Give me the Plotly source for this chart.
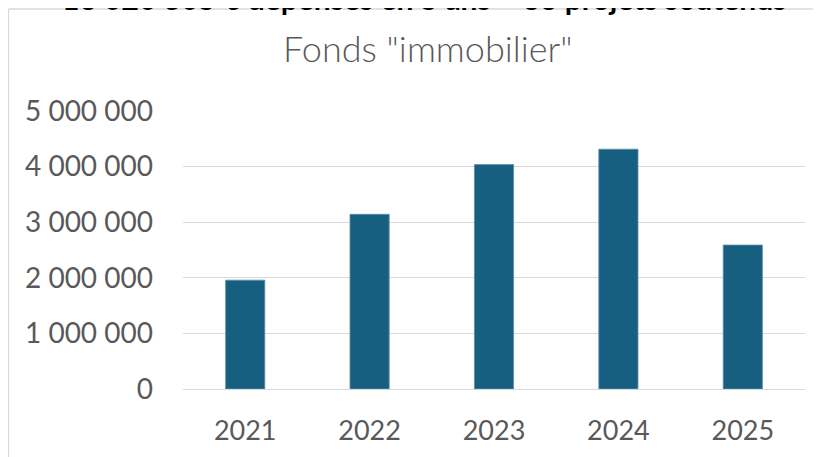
import plotly.graph_objects as go

years = ["2021", "2022", "2023", "2024", "2025"]
montants = [1958000, 3142000, 4036000, 4313000, 2589000]
y_ticks = [0, 1000000, 2000000, 3000000, 4000000, 5000000]
y_tick_labels = ["0", "1 000 000", "2 000 000", "3 000 000", "4 000 000", "5 000 000"]
titre_haut = "16 020 305 € dépensés en 5 ans – 66 projets soutenus"
titre = 'Fonds "immobilier"'

# the page body adds an 8 px margin: the figure starts at (8, 8) in the window
O = 8
W, H = 821 - O, 457 - O
# plot area in window pixels: x 183..805, y 111..389
L, R = 183 - O, W - (805 - O)
T, B = 111 - O, H - (389 - O)
ph = H - T - B
pw = W - L - R

def py(p):  # window pixel y -> paper y
    return (H - B - (p - O)) / ph

def px(p):  # window pixel x -> paper x
    return ((p - O) - L) / pw

fig = go.Figure()
fig.add_trace(go.Bar(
    x=years, y=montants,
    marker=dict(color="#175F81", line=dict(color="#5B8FA8", width=0.8)),
    width=0.315,
    hoverinfo="x+y",
))

FONT = "Lato"
fig.update_layout(
    width=W, height=H,
    margin=dict(l=L, r=R, t=T, b=B),
    paper_bgcolor="white", plot_bgcolor="white",
    showlegend=False,
    font=dict(family=FONT, color="#595959"),
    xaxis=dict(
        type="category", showgrid=False, zeroline=False, showline=False,
        ticks="", tickfont=dict(size=27, color="#595959"),
        ticklabelstandoff=23,
    ),
    yaxis=dict(
        range=[0, 5000000], tickvals=y_ticks, ticktext=y_tick_labels,
        showgrid=True, gridcolor="#D9D9D9", gridwidth=1.3,
        zeroline=True, zerolinecolor="#D9D9D9", zerolinewidth=1.3,
        showline=False, ticks="", tickfont=dict(size=28, color="#595959"),
        ticklabelstandoff=29,
    ),
    shapes=[
        dict(type="line", xref="paper", yref="paper",
             x0=px(8.5), x1=px(830), y0=py(9), y1=py(9),
             line=dict(color="#D9D9D9", width=1.3)),
        dict(type="line", xref="paper", yref="paper",
             x0=px(8.5), x1=px(8.5), y0=py(9), y1=py(470),
             line=dict(color="#D9D9D9", width=1.3)),
    ],
    annotations=[
        dict(text=titre_haut, xref="paper", yref="paper",
             x=px(424), y=py(18.5), xanchor="center", yanchor="bottom",
             showarrow=False,
             font=dict(family=FONT, size=30, color="#000000", weight="bold")),
        dict(text=titre, xref="paper", yref="paper",
             x=px(428), y=py(72), xanchor="center", yanchor="bottom",
             showarrow=False,
             font=dict(family=FONT, size=36, color="#595959", weight=300)),
    ],
)

fig.write_html("out.html")
